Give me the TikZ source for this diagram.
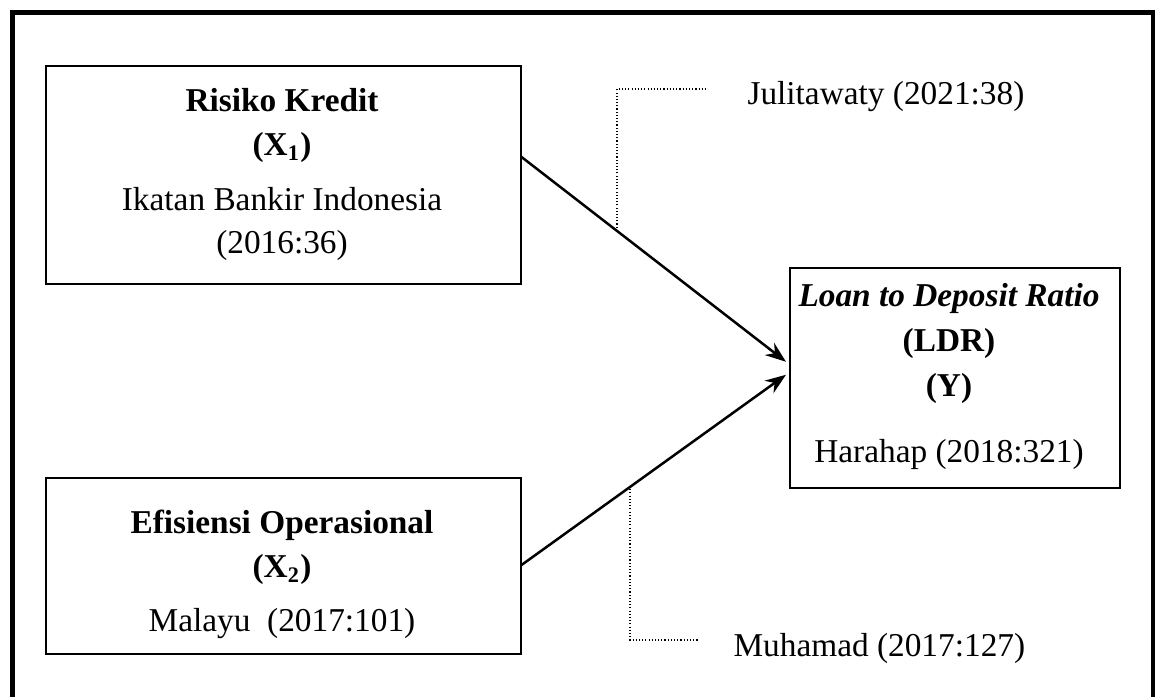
\documentclass[tikz,border=0pt]{standalone}
\usepackage{fontspec}
\setmainfont{Liberation Serif}
\usepackage{tikz}
\usetikzlibrary{arrows.meta,positioning,calc}

\begin{document}
\begin{tikzpicture}[
    x=0.36pt, y=-0.36pt,
    txt/.style={font=\fontsize{12}{14}\selectfont, anchor=base, inner sep=0pt},
    varbox/.style={draw, line width=0.55pt, inner sep=0pt, anchor=north west},
    link/.style={line width=0.9pt, -{Stealth[length=7.5pt, width=5.5pt]}},
    ref/.style={line width=0.4pt, dash pattern=on 0.4pt off 0.75pt}
]
\useasboundingbox (0,0) rectangle (1155,697);
% Outer frame
\begin{scope}
\clip (0,0) rectangle (1155,697);
\draw[line width=1.8pt] (12.5,12.5) rectangle (1153,760);
\end{scope}

% Variable boxes
\node[varbox, minimum width=475*0.36pt, minimum height=218*0.36pt] (risk) at (45,65) {};
\node[varbox, minimum width=475*0.36pt, minimum height=176*0.36pt] (eff) at (45,477) {};
\node[varbox, minimum width=330*0.36pt, minimum height=220*0.36pt] (ldr) at (789,267) {};

% Box texts
\node[txt] (riskA) at (282,112) {\textbf{Risiko Kredit}};
\node[txt] (riskB) at (282,156) {\textbf{(X\textsubscript{1})}};
\node[txt] (riskC) at (282,211) {Ikatan Bankir Indonesia};
\node[txt] (riskD) at (282,254) {(2016:36)};

\node[txt] (effA) at (282,534) {\textbf{Efisiensi Operasional}};
\node[txt] (effB) at (282,578) {\textbf{(X\textsubscript{2})}};
\node[txt] (effC) at (282,632) {Malayu\ \ (2017:101)};

\node[txt] (ldrA) at (949,307) {\textbf{\textit{Loan to Deposit Ratio}}};
\node[txt] (ldrB) at (949,352) {\textbf{(LDR)}};
\node[txt] (ldrC) at (949,397) {\textbf{(Y)}};
\node[txt] (ldrD) at (949,463) {Harahap (2018:321)};

% Sources
\node[txt, anchor=base west] (julit) at (747,105) {Julitawaty (2021:38)};
\node[txt, anchor=base west] (muham) at (733,657) {Muhamad (2017:127)};

% Arrows
\draw[link] ([yshift=-92*0.36pt]risk.north east) -- ([xshift=-3*0.36pt, yshift=16*0.36pt]ldr.west);
\draw[link] ([yshift=-88*0.36pt]eff.north east) -- ([xshift=-3*0.36pt, yshift=3*0.36pt]ldr.west);

% Dotted references
\coordinate (t1) at (617,231);
\coordinate (t2) at (617,89);
\coordinate (t3) at (706,89);
\draw[ref] (t1) -- (t2) -- (t3);
\coordinate (b1) at (630,486);
\coordinate (b2) at (630,640);
\coordinate (b3) at (699,640);
\draw[ref] (b1) -- (b2) -- (b3);
\end{tikzpicture}
\end{document}
